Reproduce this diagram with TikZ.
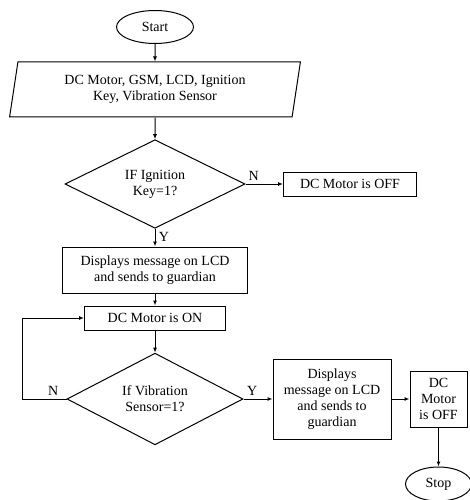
\documentclass[tikz,border=0pt]{standalone}
\usepackage{fontspec}
\setmainfont{Liberation Serif}
\usetikzlibrary{shapes.geometric,arrows.meta,positioning}

\begin{document}
\begin{tikzpicture}[x=1pt,y=-1pt,line width=1pt,>={Latex[length=5pt,width=4pt]},
        every node/.style={font=\fontsize{14}{16}\selectfont},
        term/.style={draw,ellipse,inner sep=0pt},
        io/.style={draw,trapezium,trapezium left angle=79,trapezium right angle=101,
            trapezium stretches=true,align=center,inner sep=0pt},
        cond/.style={draw,diamond,align=center,inner sep=0pt},
        proc/.style={draw,rectangle,align=center,inner sep=0pt}]
        \useasboundingbox (0,0) rectangle (470,500);

        \node (Start)[term,minimum width=77,minimum height=33] at (155,27) {Start};
        \node (Inputs)[io,minimum width=291,minimum height=55] at (155,89.5) {DC Motor, GSM, LCD, Ignition\\Key, Vibration Sensor};
        \node (Ignition)[cond,minimum width=180,minimum height=86] at (155,184) {IF Ignition\\Key=1?};
        \node (MotorOff)[proc,minimum width=133,minimum height=24] at (350,184) {DC Motor is OFF};
        \node (Display)[proc,minimum width=185,minimum height=46] at (155,270) {Displays message on LCD\\and sends to guardian};
        \node (MotorOn)[proc,minimum width=141,minimum height=24] at (155,318) {DC Motor is ON};
        \node (Vibration)[cond,minimum width=176,minimum height=83] at (155,399) {If Vibration\\Sensor=1?};
        \node (Alert)[proc,minimum width=118,minimum height=80] at (332,399) {Displays\\message on LCD\\and sends to\\guardian};
        \node (MotorStop)[proc,minimum width=57,minimum height=56] at (438.5,399) {DC\\Motor\\is OFF};
        \node (Stop)[term,minimum width=66,minimum height=34] at (438.5,484) {Stop};

        \draw [->] (Start) -- (Inputs);
        \draw [->] (Inputs) -- (Ignition);
        \draw [->] (Ignition) -- node[above,pos=0.22]{N} (MotorOff);
        \draw [->] (Ignition) -- node[right,pos=0.45]{Y} (Display);
        \draw [->] (Display) -- (MotorOn);
        \draw [->] (MotorOn) -- (Vibration);
        \draw [->] (Vibration.west) -- node[above,pos=0.3]{N} ++(-44,0) |- (MotorOn.west);
        \draw [->] (Vibration) -- node[above,pos=0.3]{Y} (Alert);
        \draw [->] (Alert) -- (MotorStop);
        \draw [->] (MotorStop) -- (Stop);
    \end{tikzpicture}
\end{document}
